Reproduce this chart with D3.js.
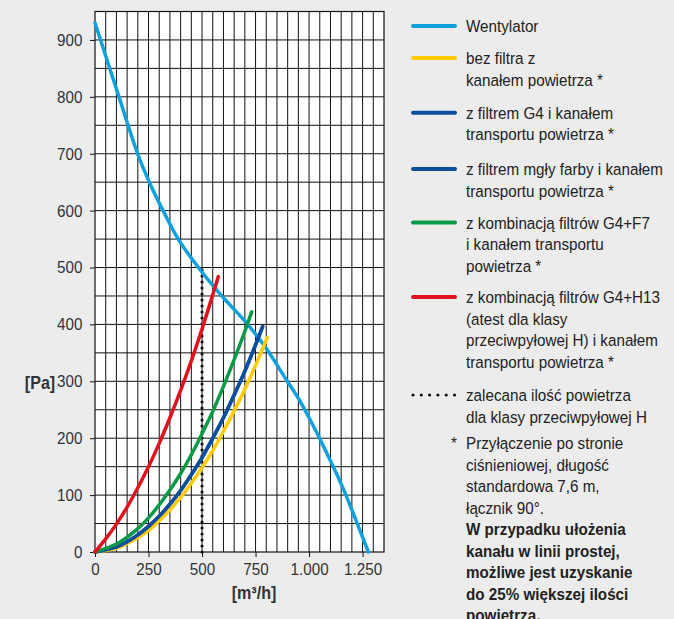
<!DOCTYPE html>
<html>
<head>
<meta charset="utf-8">
<script src="https://cdn.jsdelivr.net/npm/d3@7"></script>
<style>
  body { margin: 0; background: #ececec; }
  svg { display: block; font-family: "Liberation Sans", Arial, sans-serif; }
</style>
</head>
<body>
<div id="chart"></div>
<script>
// flow [m3/h], pressure [Pa]
const fanCurve = [[0,930],[26,900],[112,800],[199,700],[254,650],[318,600],[389,550],[483,500],[592,450],[709,402],[794,361],[895,302],[950,270],[1000,236],[1080,176],[1160,111],[1277,0]];
const noFilter = [[0,0],[100,7],[150,15],[200,25],[250,38],[300,55],[350,74],[400,96],[450,121],[500,148],[550,178],[600,212],[650,248],[700,286],[750,328],[805,377]];
const filterG4 = [[0,0],[100,9],[150,18],[200,30],[250,45],[300,63],[350,84],[400,108],[450,136],[500,166],[550,200],[600,236],[650,276],[700,318],[750,364],[783,396]];
const filterPaint = [[0,0],[100,9],[150,18],[200,30],[250,45],[300,63],[350,84],[400,108],[450,136],[500,166],[550,200],[600,236],[650,276],[700,318],[750,364],[783,396]];
const filterG4F7 = [[0,0],[100,14],[150,26],[200,41],[250,60],[300,83],[350,109],[400,138],[450,171],[500,208],[550,247],[600,291],[650,338],[700,388],[732,422]];
const filterG4H13 = [[0,0],[50,23],[100,49],[150,79],[200,113],[250,150],[300,191],[350,236],[400,284],[450,336],[500,392],[550,452],[576,484]];
const recommended = [[500,0],[500,496]];

const xTicks = [0,250,500,750,1000,1250];
const xTickLabels = ["0","250","500","750","1.000","1.250"];
const yTicks = [0,100,200,300,400,500,600,700,800,900];

const legendItems = [
  { color: "#0fa0de", lines: ["Wentylator"] },
  { color: "#ffcc00", lines: ["bez filtra z", "kanałem powietrza *"] },
  { color: "#0b4f9c", lines: ["z filtrem G4 i kanałem", "transportu powietrza *"] },
  { color: "#0b4f9c", lines: ["z filtrem mgły farby i kanałem", "transportu powietrza *"] },
  { color: "#0a9a46", lines: ["z kombinacją filtrów G4+F7", "i kanałem transportu", "powietrza *"] },
  { color: "#e3101e", lines: ["z kombinacją filtrów G4+H13", "(atest dla klasy", "przeciwpyłowej H) i kanałem", "transportu powietrza *"] },
  { color: "#111", dotted: true, lines: ["zalecana ilość powietrza", "dla klasy przeciwpyłowej H"] }
];
const noteLines = ["Przyłączenie po stronie", "ciśnieniowej, długość", "standardowa 7,6 m,", "łącznik 90°."];
const noteBold = ["W przypadku ułożenia", "kanału w linii prostej,", "możliwe jest uzyskanie", "do 25% większej ilości", "powietrza."];

const width = 674, height = 619;
const squeeze = 0.895;   // reference font is a condensed grotesque
const svg = d3.select("#chart").append("svg")
  .attr("width", width).attr("height", height);

function label(parent, px, py, str) {
  return parent.append("text")
    .attr("transform", `translate(${px},${py}) scale(${squeeze},1)`)
    .text(str);
}

const x = d3.scaleLinear().domain([0, 1350]).range([95, 384]);
const y = d3.scaleLinear().domain([0, 950]).range([552, 11.5]);

// plot area
svg.append("rect")
  .attr("x", x(0)).attr("y", y(950))
  .attr("width", x(1350) - x(0)).attr("height", y(0) - y(950))
  .attr("fill", "#fff");

const grid = svg.append("g").attr("stroke", "#111").attr("stroke-width", 1);
grid.selectAll("line.v")
  .data(d3.range(50, 1350, 50))
  .join("line").attr("class", "v")
    .attr("x1", d => x(d)).attr("x2", d => x(d))
    .attr("y1", y(950)).attr("y2", y(0));
grid.selectAll("line.h")
  .data(d3.range(50, 950, 50))
  .join("line").attr("class", "h")
    .attr("x1", x(0)).attr("x2", x(1350))
    .attr("y1", d => y(d)).attr("y2", d => y(d));

svg.append("rect")
  .attr("x", x(0)).attr("y", y(950))
  .attr("width", x(1350) - x(0)).attr("height", y(0) - y(950))
  .attr("fill", "none").attr("stroke", "#111").attr("stroke-width", 1.2);

// axes
svg.append("g")
  .attr("transform", `translate(${x(0)},0)`)
  .call(d3.axisLeft(y).tickValues(yTicks).tickSize(5).tickPadding(0))
  .call(g => g.select(".domain").remove())
  .call(g => g.selectAll("line").attr("stroke", "#111"))
  .call(g => g.selectAll("text").attr("x", -14).attr("fill", "#333").style("font-size", "17px")
    .attr("transform", `scale(${squeeze},1)`));

svg.append("g")
  .attr("transform", `translate(0,${y(0)})`)
  .call(d3.axisBottom(x).tickValues(xTicks).tickFormat((d, i) => xTickLabels[i]).tickSize(5).tickPadding(6))
  .call(g => g.select(".domain").remove())
  .call(g => g.selectAll("line").attr("stroke", "#111"))
  .call(g => g.selectAll("text").attr("fill", "#333").style("font-size", "17px")
    .attr("transform", `scale(${squeeze},1)`));

label(svg, 40, 389, "[Pa]")
  .attr("text-anchor", "middle")
  .attr("font-weight", "bold").attr("font-size", 18).attr("fill", "#333");
label(svg, 254, 599, "[m³/h]")
  .attr("text-anchor", "middle")
  .attr("font-weight", "bold").attr("font-size", 18).attr("fill", "#333");

// curves
const line = d3.line()
  .x(d => x(d[0])).y(d => y(d[1]))
  .curve(d3.curveCatmullRom.alpha(0.5));

const series = [
  { data: fanCurve, color: legendItems[0].color },
  { data: noFilter, color: legendItems[1].color },
  { data: filterG4, color: legendItems[2].color },
  { data: filterPaint, color: legendItems[3].color },
  { data: filterG4F7, color: legendItems[4].color },
  { data: filterG4H13, color: legendItems[5].color }
];

svg.append("path")
  .datum(recommended)
  .attr("d", d3.line().x(d => x(d[0])).y(d => y(d[1])))
  .attr("fill", "none")
  .attr("stroke", "#111")
  .attr("stroke-width", 3.2)
  .attr("stroke-linecap", "round")
  .attr("stroke-dasharray", "0 6");

svg.append("g")
  .selectAll("path")
  .data(series)
  .join("path")
    .attr("d", d => line(d.data))
    .attr("fill", "none")
    .attr("stroke", d => d.color)
    .attr("stroke-width", 3.5)
    .attr("stroke-linecap", "round");

// legend
const lineH = 21.6;
const legendY = [26, 58, 112.7, 169, 222.5, 297, 395];
const lg = svg.append("g").attr("font-size", 17).attr("fill", "#222");
legendItems.forEach((item, i) => {
  const cy = legendY[i];
  const sample = lg.append("line")
    .attr("x1", 413).attr("x2", 455).attr("y1", cy).attr("y2", cy)
    .attr("stroke", item.color)
    .attr("stroke-linecap", "round");
  if (item.dotted) {
    sample.attr("stroke-width", 3.2).attr("stroke-dasharray", "0 8.3");
  } else {
    sample.attr("stroke-width", 4);
  }
  item.lines.forEach((t, j) => label(lg, 466, cy + 6 + j * lineH, t));
});

const noteY = 443;
label(lg, 451, noteY + 6, "*");
noteLines.concat(noteBold).forEach((t, j) => {
  label(lg, 466, noteY + 6 + j * 21.5, t)
    .attr("font-weight", j >= noteLines.length ? "bold" : null);
});
</script>
</body>
</html>
